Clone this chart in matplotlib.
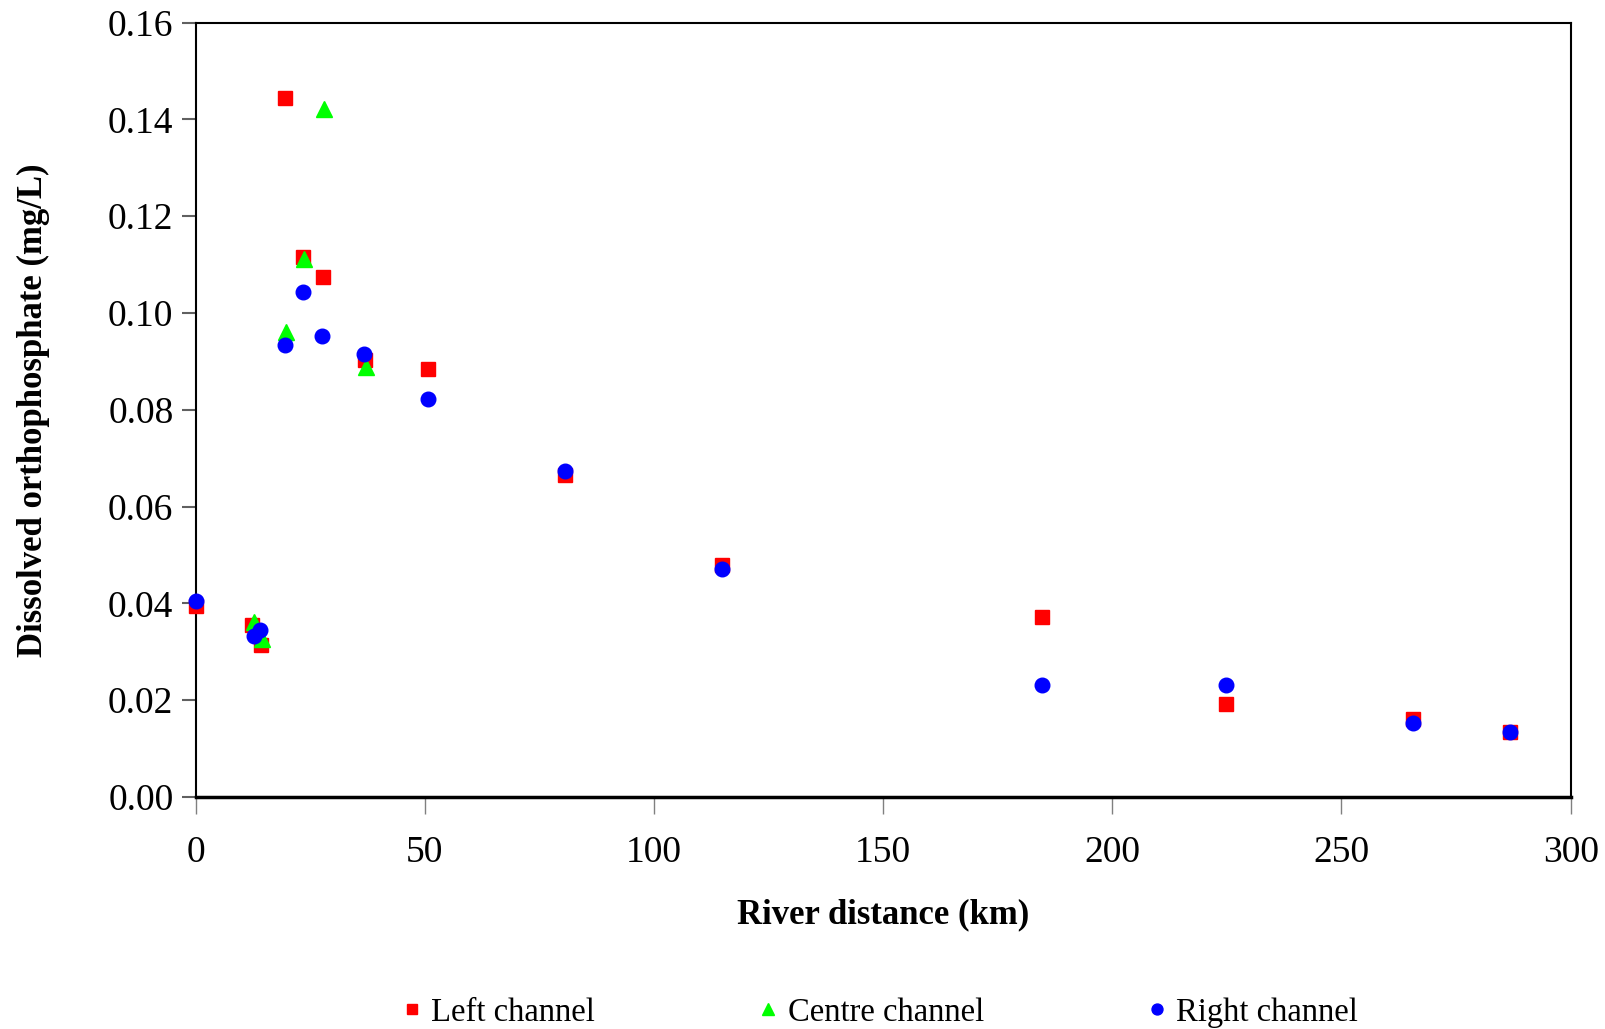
import matplotlib
matplotlib.use("Agg")
import matplotlib.pyplot as plt

left_x = [0, 12.3, 14.3, 19.5, 23.4, 27.7, 36.9, 50.8, 80.6, 114.8, 184.7, 224.7, 265.6, 286.8]
left_y = [0.0394, 0.0356, 0.0313, 0.1444, 0.1115, 0.1075, 0.0903, 0.0884, 0.0665, 0.0480, 0.0372, 0.0193, 0.0161, 0.0135]

centre_x = [12.7, 14.5, 19.7, 23.6, 28.0, 37.1]
centre_y = [0.0362, 0.0326, 0.0961, 0.1111, 0.1422, 0.0889]

right_x = [0, 12.7, 14.1, 19.5, 23.4, 27.6, 36.8, 50.8, 80.6, 114.8, 184.7, 224.7, 265.6, 286.8]
right_y = [0.0404, 0.0332, 0.0345, 0.0933, 0.1043, 0.0952, 0.0915, 0.0823, 0.0673, 0.0472, 0.0231, 0.0231, 0.0152, 0.0135]

x_ticks = [0, 50, 100, 150, 200, 250, 300]
y_ticks = [0.00, 0.02, 0.04, 0.06, 0.08, 0.10, 0.12, 0.14, 0.16]

plt.rcParams['font.family'] = ['Liberation Serif', 'DejaVu Serif']

fig = plt.figure(figsize=(16.06, 10.29), dpi=100)
ax = fig.add_axes([0.1218, 0.2255, 0.978 - 0.1218, 0.978 - 0.2255])

ax.plot(left_x, left_y, linestyle='none', marker='s', color='#FF0000', markersize=10.5, label='Left channel', clip_on=False, zorder=3)
ax.plot(centre_x, centre_y, linestyle='none', marker='^', color='#00FF00', markersize=11.5, label='Centre channel', clip_on=False, zorder=4)
ax.plot(right_x, right_y, linestyle='none', marker='o', color='#0000FF', markersize=10.5, label='Right channel', clip_on=False, zorder=5)

ax.set_xlim(0, 300)
ax.set_ylim(0, 0.16)
ax.set_xticks(x_ticks)
ax.set_yticks(y_ticks)
ax.set_xticklabels([str(t) for t in x_ticks])
ax.set_yticklabels([f"{t:.2f}" for t in y_ticks])

ax.tick_params(axis='x', direction='out', length=12, width=1, color='#808080', labelsize=27, pad=16)
ax.tick_params(axis='y', direction='out', length=10, width=1.5, color='#606060', labelsize=27, pad=6)

for s in ax.spines.values():
    s.set_linewidth(1.5)
    s.set_color('black')
ax.spines['bottom'].set_linewidth(2.5)

ax.set_xlabel('River distance (km)', fontsize=25, fontweight='bold', labelpad=20)
ax.set_ylabel('Dissolved orthophosphate (mg/L)', fontsize=25, fontweight='bold', labelpad=42)

handles, labels = ax.get_legend_handles_labels()
leg = fig.legend(handles, labels, loc='center', bbox_to_anchor=(0.548, 0.016), ncol=3,
                 frameon=False, fontsize=23.5, markerscale=0.75, handlelength=0.6,
                 handletextpad=0.3, columnspacing=5.0)

fig.savefig('out.png', dpi=100)
